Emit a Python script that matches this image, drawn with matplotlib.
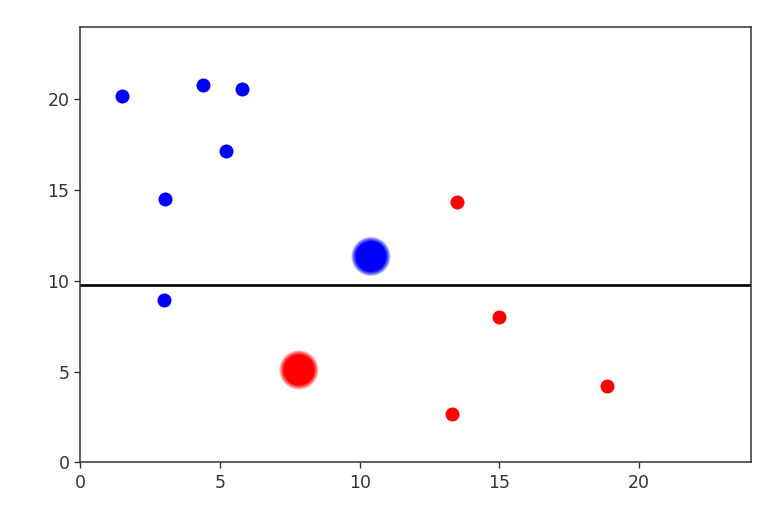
import numpy as np
import matplotlib
matplotlib.use('Agg')
import matplotlib.pyplot as plt

# Points
blue_x = [1.49, 4.37, 5.78, 5.20, 3.01, 2.99]
blue_y = [20.20, 20.77, 20.55, 17.18, 14.53, 8.96]
red_x = [13.47, 14.98, 18.84, 13.30]
red_y = [14.37, 8.03, 4.22, 2.68]

# Large (blurred) points
big_x = [10.40, 7.82]
big_y = [11.35, 5.10]
big_colors = ['blue', 'red']

# Horizontal separator
line_y = 9.79

plt.rcParams.update({
    'font.family': 'DejaVu Sans',
    'font.size': 12.5,
    'axes.linewidth': 1.1,
    'xtick.major.size': 4.5,
    'ytick.major.size': 4.5,
    'xtick.major.width': 1.0,
    'ytick.major.width': 1.0,
    'axes.edgecolor': '#333333',
    'xtick.color': '#333333',
    'ytick.color': '#333333',
})

fig = plt.figure(figsize=(7.74, 5.16), dpi=100)
ax = fig.add_axes([0.104, 0.1037, 0.866, 0.8443])

ax.scatter(blue_x, blue_y, s=102, color='blue', linewidths=0)
ax.scatter(red_x, red_y, s=102, color='red', linewidths=0)

# soft-edged big markers: stacked translucent discs plus a solid core
for d, a in [(39, 0.25), (37, 0.3), (35, 0.35), (33, 0.45)]:
    s = (d * 72 / 100) ** 2
    ax.scatter(big_x, big_y, s=s, c=big_colors, alpha=a, linewidths=0)
core = (31 * 72 / 100) ** 2
ax.scatter(big_x, big_y, s=core, c=big_colors, linewidths=0)

ax.axhline(line_y, color='black', lw=1.9)

ax.set_xlim(0, 24)
ax.set_ylim(0, 24)
ax.set_xticks([0, 5, 10, 15, 20])
ax.set_yticks([0, 5, 10, 15, 20])

fig.savefig('out.png', dpi=100)
